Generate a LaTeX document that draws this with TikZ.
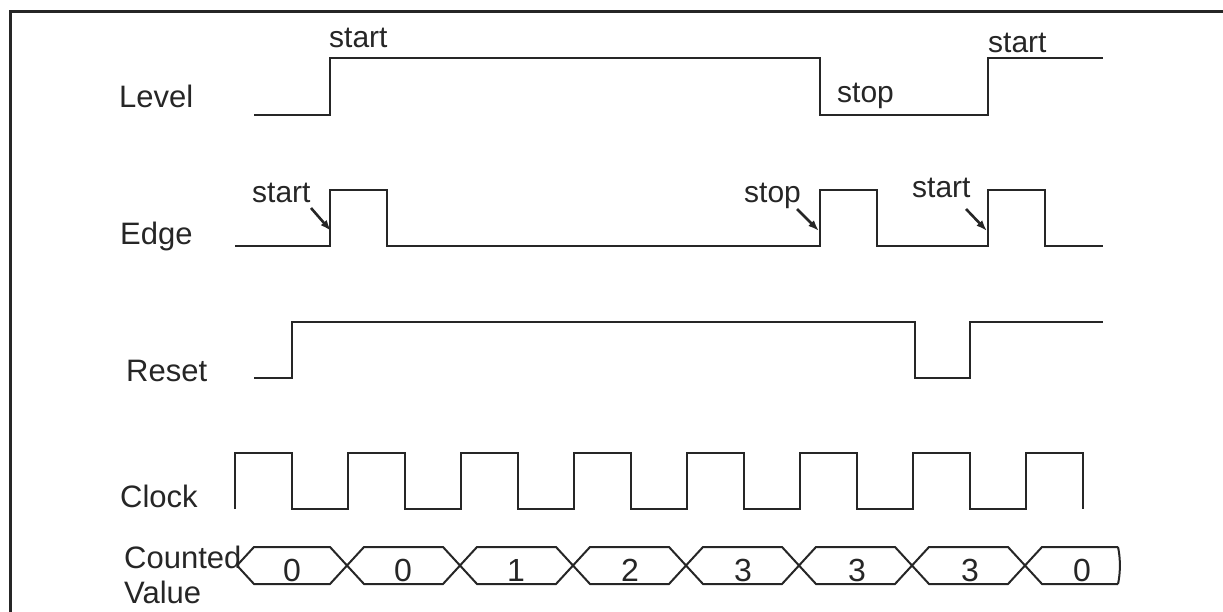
\documentclass[tikz,border=0pt]{standalone}
\usepackage{fontspec}
\setmainfont{Liberation Sans}
\usetikzlibrary{arrows.meta}
\begin{document}
\begin{tikzpicture}[x=1pt,y=-1pt,
  sig/.style={line width=2pt, line join=miter, color=black!85},
  frame/.style={line width=3pt, color=black!85},
  lbl/.style={anchor=base west, inner sep=0pt, font=\fontsize{31}{34}\selectfont, text=black!85},
  note/.style={anchor=base west, inner sep=0pt, font=\fontsize{30}{34}\selectfont, text=black!85},
  digit/.style={anchor=base, inner sep=0pt, font=\fontsize{32}{36}\selectfont, text=black!85},
  ptr/.style={line width=2.6pt, color=black!85, -{Latex[length=11pt,width=8pt]}}]
\useasboundingbox (0,0) rectangle (1223,612);
% frame
\draw[frame] (10,614) -- (10,12) -- (1225,12);

% signal names
\node[lbl] (lvl) at (119,108) {Level};
\node[lbl] (edg) at (120,245) {Edge};
\node[lbl] (rst) at (126,381) {Reset};
\node[lbl] (clk) at (120,507) {Clock};
\node[lbl] (cnt) at (124,568) {Counted};
\node[lbl] (val) at (124,603) {Value};

% Level
\draw[sig] (254,115) -- (330,115) -- (330,58) -- (820,58) -- (820,115) -- (988,115) -- (988,58) -- (1103,58);
\node[note] (l1) at (329,48) {start};
\node[note] (l2) at (837,103) {stop};
\node[note] (l3) at (988,53) {start};

% Edge
\draw[sig] (235,246) -- (330,246) -- (330,190) -- (387,190) -- (387,246) -- (820,246) -- (820,190) -- (877,190) -- (877,246) -- (988,246) -- (988,190) -- (1045,190) -- (1045,246) -- (1103,246);
\node[note] (e1) at (252,203) {start};
\node[note] (e2) at (744,203) {stop};
\node[note] (e3) at (912,198) {start};
\coordinate (a1s) at (311,208);
\coordinate (a1e) at (331,231);
\coordinate (a2s) at (797,209);
\coordinate (a2e) at (819,231);
\coordinate (a3s) at (966,209);
\coordinate (a3e) at (987,231);
\draw[ptr] (a1s) -- (a1e);
\draw[ptr] (a2s) -- (a2e);
\draw[ptr] (a3s) -- (a3e);

% Reset
\draw[sig] (254,378) -- (292,378) -- (292,322) -- (915,322) -- (915,378) -- (970,378) -- (970,322) -- (1103,322);

% Clock
\draw[sig] (235,509) -- (235,453) -- (291.5,453) -- (291.5,509) -- (348,509) -- (348,453) -- (404.5,453) -- (404.5,509) -- (461,509) -- (461,453) -- (517.5,453) -- (517.5,509) -- (574,509) -- (574,453) -- (630.5,453) -- (630.5,509) -- (687,509) -- (687,453) -- (743.5,453) -- (743.5,509) -- (800,509) -- (800,453) -- (856.5,453) -- (856.5,509) -- (913,509) -- (913,453) -- (969.5,453) -- (969.5,509) -- (1026,509) -- (1026,453) -- (1082.5,453) -- (1082.5,509);

% Counted value bus
\draw[sig] (237,565.5) -- (254,547) -- (330,547) -- (364,584) -- (443,584) -- (477,547) -- (556,547) -- (590,584) -- (669,584) -- (703,547) -- (782,547) -- (816,584) -- (895,584) -- (929,547) -- (1008,547) -- (1042,584) -- (1118,584);
\draw[sig] (237,565.5) -- (254,584) -- (330,584) -- (364,547) -- (443,547) -- (477,584) -- (556,584) -- (590,547) -- (669,547) -- (703,584) -- (782,584) -- (816,547) -- (895,547) -- (929,584) -- (1008,584) -- (1042,547) -- (1118,547);
\draw[sig] (1118,547) .. controls (1120.5,558) and (1120.5,573) .. (1118,584);
\node[digit] (v1) at (292,581) {0};
\node[digit] (v2) at (403,581) {0};
\node[digit] (v3) at (516,581) {1};
\node[digit] (v4) at (630,581) {2};
\node[digit] (v5) at (743,581) {3};
\node[digit] (v6) at (857,581) {3};
\node[digit] (v7) at (970,581) {3};
\node[digit] (v8) at (1082,581) {0};
\end{tikzpicture}
\end{document}
